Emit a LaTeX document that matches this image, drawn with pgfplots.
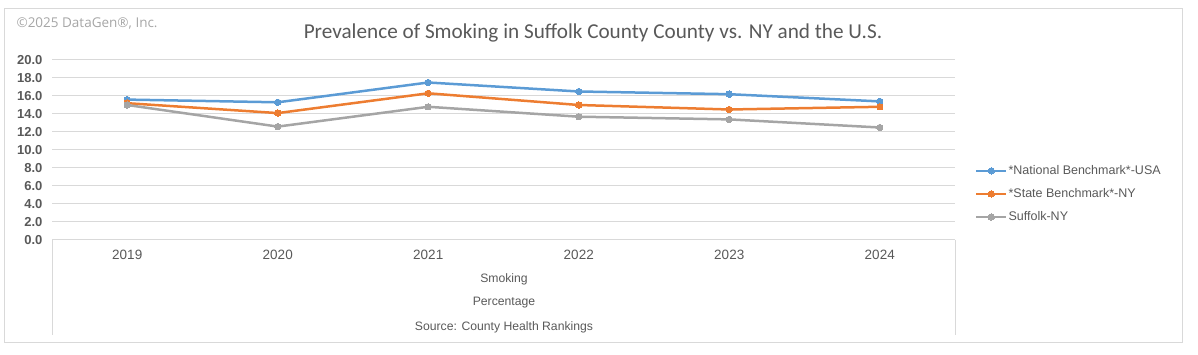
\documentclass[border=0pt]{standalone}
\usepackage{pgfplots}
\pgfplotsset{compat=1.18}
\usepackage{fontspec}
\setmainfont{Liberation Sans}
\newfontfamily\titlefont{Carlito}
\newfontfamily\copyfont{Open Sans}
\definecolor{cblue}{HTML}{5B9BD5}
\definecolor{corange}{HTML}{ED7D31}
\definecolor{cgray}{HTML}{A5A5A5}
\definecolor{txt}{HTML}{595959}
\definecolor{gridc}{HTML}{D9D9D9}
\definecolor{copyc}{HTML}{A6A6A6}
\begin{document}
\begin{tikzpicture}
\begin{scope}[x=1pt,y=1pt]
\path (0,0) rectangle (1198,355);
\draw[gridc, line width=1pt] (4,12) rectangle (1182,346);
\node[anchor=west, text=copyc, font=\copyfont\fontsize{13.5}{15}\selectfont] at (13,332) {©2025 DataGen®, Inc.};
\node[text=txt, font=\titlefont\fontsize{21.2}{24}\selectfont] at (593,322) {Prevalence of Smoking in Suffolk County County vs. NY and the U.S.};
\end{scope}
\begin{axis}[
  at={(52pt,115pt)}, anchor=south west,
  scale only axis, width=903pt, height=180pt,
  xmin=-0.5, xmax=5.5, ymin=0, ymax=20,
  ytick={0,2,...,20},
  xtick={0,1,2,3,4,5},
  xticklabels={2019,2020,2021,2022,2023,2024},
  major tick length=0pt,
  axis line style={draw=none},
  ymajorgrids, grid style={gridc, line width=1pt},
  /pgf/number format/assume math mode=true,
  /pgf/number format/fixed, /pgf/number format/fixed zerofill, /pgf/number format/precision=1,
  yticklabel style={font=\bfseries\fontsize{13}{15}\selectfont, text=txt, anchor=east, xshift=-6pt},
  xticklabel style={font=\fontsize{13.5}{15}\selectfont, text=txt, anchor=center, yshift=-15pt},
  clip=false,
  legend style={at={(1.022,0.256)}, anchor=west, draw=none, fill=none,
    font=\fontsize{12.5}{14}\selectfont, text=txt, row sep=10.5pt, inner sep=0pt,
    nodes={inner sep=1pt}},
  legend cell align=left,
  legend image code/.code={\draw[mark repeat=2, mark phase=2] plot coordinates {(0pt,0pt)(15pt,0pt)(30pt,0pt)};},
  every axis plot/.append style={line width=2.5pt, mark=*, mark size=3.2pt},
]
\addplot[cblue, mark options={fill=cblue, draw=cblue, line width=0pt}] coordinates {(0,15.6)(1,15.3)(2,17.5)(3,16.5)(4,16.2)(5,15.4)};
\addlegendentry{*National Benchmark*-USA}
\addplot[corange, mark options={fill=corange, draw=corange, line width=0pt}] coordinates {(0,15.2)(1,14.1)(2,16.3)(3,15.0)(4,14.5)(5,14.8)};
\addlegendentry{*State Benchmark*-NY}
\addplot[cgray, mark options={fill=cgray, draw=cgray, line width=0pt}] coordinates {(0,15.0)(1,12.6)(2,14.8)(3,13.7)(4,13.4)(5,12.5)};
\addlegendentry{Suffolk-NY}
\end{axis}
\begin{scope}[x=1pt,y=1pt]
\draw[gridc, line width=1pt] (52,115) -- (52,20);
\draw[gridc, line width=1pt] (955,115) -- (955,20);
\node[text=txt, font=\fontsize{12.2}{14}\selectfont] at (504,76) {Smoking};
\node[text=txt, font=\fontsize{12.2}{14}\selectfont] at (504,52) {Percentage};
\node[text=txt, font=\fontsize{12.2}{14}\selectfont] at (504,28) {Source: County Health Rankings};
\end{scope}
\end{tikzpicture}
\end{document}
